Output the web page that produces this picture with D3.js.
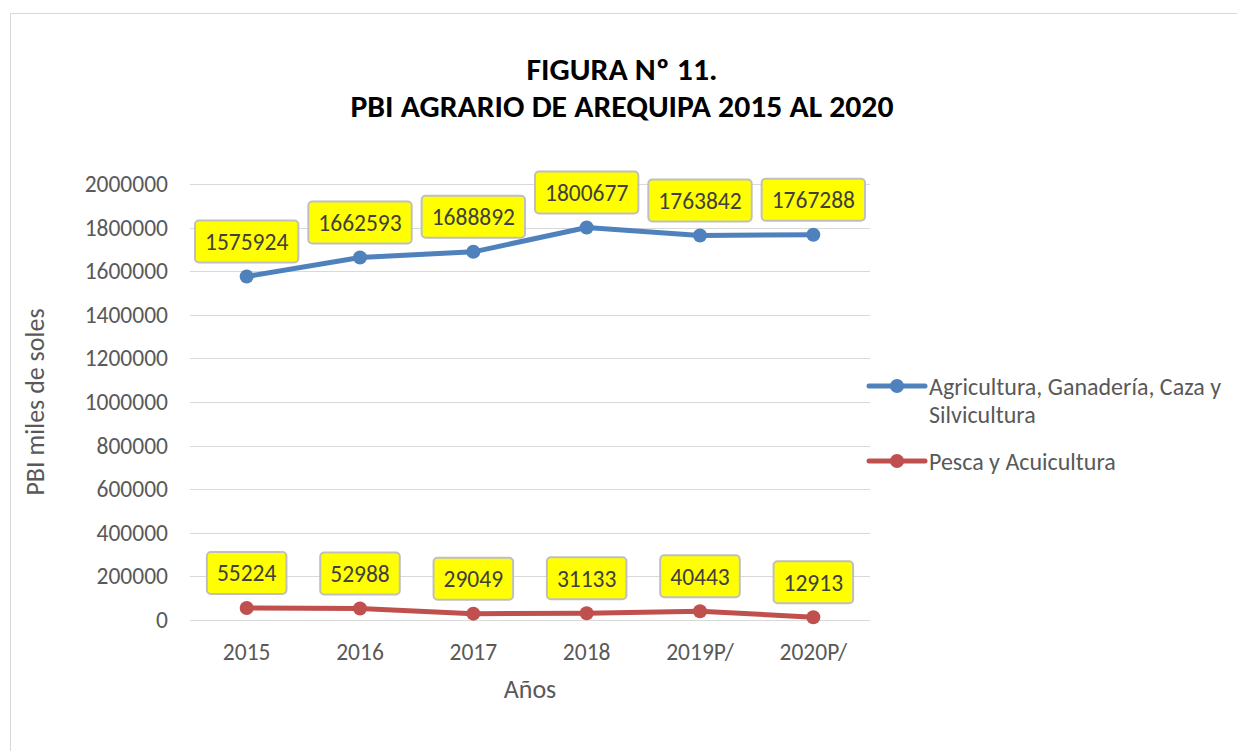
<!DOCTYPE html>
<html>
<head>
<meta charset="utf-8">
<script src="https://cdn.jsdelivr.net/npm/d3@7"></script>
<style>
	body { margin: 0; background: #fff; }
	svg text { font-family: Carlito, Calibri, Lato, sans-serif; }
</style>
</head>
<body>
<svg id="chart" width="1237" height="751"></svg>
<script>
const years = ["2015", "2016", "2017", "2018", "2019P/", "2020P/"];
const agricultura = [1575924, 1662593, 1688892, 1800677, 1763842, 1767288];
const pesca = [55224, 52988, 29049, 31133, 40443, 12913];
const yTicks = [0, 200000, 400000, 600000, 800000, 1000000, 1200000, 1400000, 1600000, 1800000, 2000000];
const seriesNames = [["Agricultura, Ganadería, Caza y", "Silvicultura"], ["Pesca y Acuicultura"]];
const colors = ["#4f81bd", "#c0504d"];

let svg = d3.select("#chart");

// chart frame
svg.append("rect")
	.attr("x", 10.5)
	.attr("y", 13.5)
	.attr("width", 1300)
	.attr("height", 800)
	.attr("fill", "none")
	.attr("stroke", "#d9d9d9");

let plot = { left: 190, right: 870, top: 184, bottom: 620 };

let x = d3.scaleBand()
	.domain(years)
	.range([plot.left, plot.right]);

let y = d3.scaleLinear()
	.domain([0, 2000000])
	.range([plot.bottom, plot.top]);

// title
svg.append("text")
	.attr("x", 622)
	.attr("y", 80)
	.attr("text-anchor", "middle")
	.attr("font-size", 31)
	.attr("font-weight", "bold")
	.attr("fill", "#000")
	.attr("textLength", 191)
	.attr("lengthAdjust", "spacingAndGlyphs")
	.text("FIGURA Nº 11.");

svg.append("text")
	.attr("x", 622)
	.attr("y", 117)
	.attr("text-anchor", "middle")
	.attr("font-size", 31)
	.attr("font-weight", "bold")
	.attr("fill", "#000")
	.attr("textLength", 543)
	.attr("lengthAdjust", "spacingAndGlyphs")
	.text("PBI AGRARIO DE AREQUIPA 2015 AL 2020");

// grid
svg.append("g")
	.selectAll("line")
	.data(yTicks)
	.join("line")
	.attr("x1", plot.left)
	.attr("x2", plot.right)
	.attr("y1", (d) => Math.round(y(d)) + 0.5)
	.attr("y2", (d) => Math.round(y(d)) + 0.5)
	.attr("stroke", "#d9d9d9")
	.attr("stroke-width", 1);

// y axis labels
let yAxis = svg.append("g")
	.attr("transform", `translate(${plot.left - 22}, 0)`)
	.call(d3.axisLeft(y).tickValues(yTicks).tickSize(0).tickPadding(0).tickFormat(d3.format("d")));
yAxis.select(".domain").remove();
yAxis.selectAll("text")
	.attr("font-size", 23.5)
	.attr("fill", "#595959");

// x axis labels
let xAxis = svg.append("g")
	.attr("transform", `translate(0, ${plot.bottom + 40})`)
	.call(d3.axisBottom(x).tickSize(0).tickPadding(0));
xAxis.select(".domain").remove();
xAxis.selectAll("text")
	.attr("font-size", 23.5)
	.attr("fill", "#595959")
	.attr("dy", 0);

// axis titles
svg.append("text")
	.attr("transform", `translate(44, ${(plot.top + plot.bottom) / 2}) rotate(-90)`)
	.attr("text-anchor", "middle")
	.attr("font-size", 26)
	.attr("fill", "#595959")
	.text("PBI miles de soles");

svg.append("text")
	.attr("x", 530)
	.attr("y", 698)
	.attr("text-anchor", "middle")
	.attr("font-size", 26)
	.attr("fill", "#595959")
	.text("Años");

// series
let line = d3.line()
	.x((d, i) => x(years[i]) + x.bandwidth() / 2)
	.y((d) => y(d));

[agricultura, pesca].forEach((values, s) => {
	let g = svg.append("g");

	g.append("path")
		.datum(values)
		.attr("d", line)
		.attr("fill", "none")
		.attr("stroke", colors[s])
		.attr("stroke-width", 5)
		.attr("stroke-linejoin", "round")
		.attr("stroke-linecap", "round");

	g.selectAll("circle")
		.data(values)
		.join("circle")
		.attr("cx", (d, i) => x(years[i]) + x.bandwidth() / 2)
		.attr("cy", (d) => y(d))
		.attr("r", 7)
		.attr("fill", colors[s]);

	// data labels
	let labels = g.selectAll("g.label")
		.data(values)
		.join("g")
		.classed("label", true)
		.attr("transform", (d, i) => `translate(${x(years[i]) + x.bandwidth() / 2}, ${y(d) - 35})`);

	labels.append("text")
		.attr("text-anchor", "middle")
		.attr("dy", "0.36em")
		.attr("font-size", 23.5)
		.attr("fill", "#404040")
		.text((d) => d);

	labels.each(function () {
		let tw = d3.select(this).select("text").node().getComputedTextLength();
		let w = tw + 20;
		d3.select(this).insert("rect", "text")
			.attr("x", -w / 2)
			.attr("y", -21)
			.attr("width", w)
			.attr("height", 42)
			.attr("rx", 4)
			.attr("fill", "#ffff00")
			.attr("stroke", "#bfbfbf")
			.attr("stroke-width", 2);
	});
});

// legend
let legend = svg.append("g");
let legendY = [386, 461];
seriesNames.forEach((lines, s) => {
	legend.append("line")
		.attr("x1", 869)
		.attr("x2", 925)
		.attr("y1", legendY[s])
		.attr("y2", legendY[s])
		.attr("stroke", colors[s])
		.attr("stroke-width", 5)
		.attr("stroke-linecap", "round");
	legend.append("circle")
		.attr("cx", 897)
		.attr("cy", legendY[s])
		.attr("r", 7)
		.attr("fill", colors[s]);
	legend.append("text")
		.attr("x", 929)
		.attr("y", legendY[s])
		.attr("font-size", 24)
		.attr("fill", "#595959")
		.selectAll("tspan")
		.data(lines)
		.join("tspan")
		.attr("x", 929)
		.attr("dy", (d, i) => (i === 0 ? "0.36em" : 28))
		.text((d) => d);
});
</script>
</body>
</html>
